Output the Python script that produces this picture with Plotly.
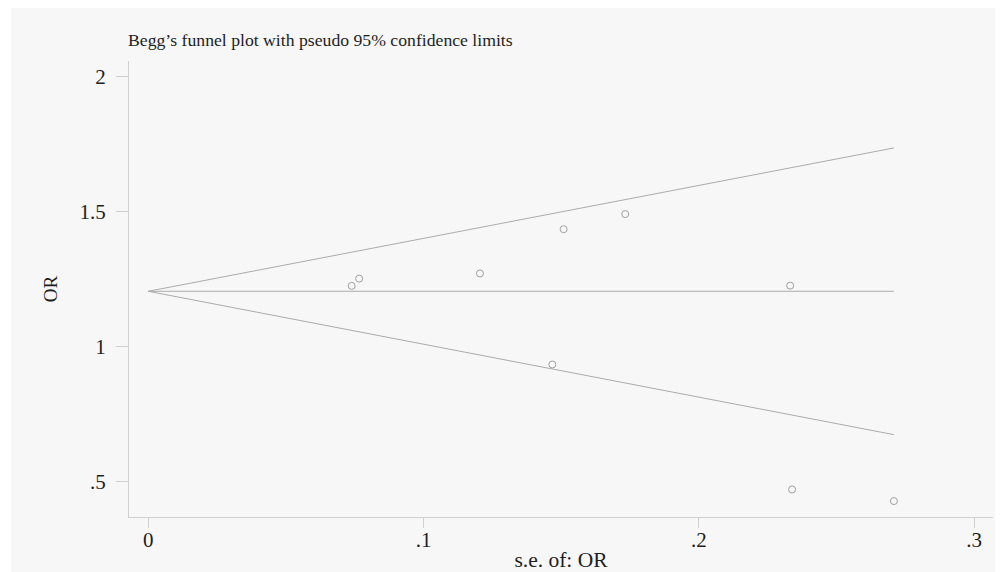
import plotly.graph_objects as go

# Study data: standard error of OR (x) and OR (y)
se = [0.0739, 0.0766, 0.1205, 0.1468, 0.1509, 0.1733, 0.2332, 0.2339, 0.2709]
odds_ratio = [1.224, 1.251, 1.270, 0.933, 1.434, 1.490, 1.225, 0.470, 0.427]

pooled = 1.204  # pooled estimate (centre line)
z = 1.96

x_ticks = [0, 0.1, 0.2, 0.3]
x_tick_labels = ["0", ".1", ".2", ".3"]
y_ticks = [0.5, 1, 1.5, 2]
y_tick_labels = [".5", "1", "1.5", "2"]

se_max = max(se)
line_x = [0, se_max]

FONT = "Liberation Serif"
LINE_COL = "#ababab"
AXIS_COL = "#d0d0d0"
TXT = "#1e1e1e"

fig = go.Figure()
fig.add_trace(go.Scatter(x=line_x, y=[pooled + z * s for s in line_x], mode="lines",
                         line=dict(color=LINE_COL, width=1), showlegend=False, hoverinfo="skip"))
fig.add_trace(go.Scatter(x=line_x, y=[pooled, pooled], mode="lines",
                         line=dict(color=LINE_COL, width=1), showlegend=False, hoverinfo="skip"))
fig.add_trace(go.Scatter(x=line_x, y=[pooled - z * s for s in line_x], mode="lines",
                         line=dict(color=LINE_COL, width=1), showlegend=False, hoverinfo="skip"))
fig.add_trace(go.Scatter(x=se, y=odds_ratio, mode="markers",
                         marker=dict(symbol="circle-open", size=7, color="#a0a0a0",
                                     line=dict(width=1, color="#a0a0a0")),
                         showlegend=False))

# page body has an 8px margin; the figure starts at (8, 8) on the page
OFF = 8
W, H = 1003 - OFF, 572 - OFF
ml, mr, mt, mb = 129 - OFF, 10, 61 - OFF, 55
pw, ph = W - ml - mr, H - mt - mb

# grey background panel (white strip on the left edge)
fig.add_shape(type="rect", xref="paper", yref="paper",
              x0=(11 - OFF - ml) / pw, x1=(W - ml) / pw,
              y0=-mb / ph, y1=1 + mt / ph,
              fillcolor="#f7f7f7", line=dict(width=0), layer="below")

fig.update_layout(
    template="none",
    width=W, height=H,
    margin=dict(l=ml, r=mr, t=mt, b=mb, autoexpand=False),
    paper_bgcolor="white",
    plot_bgcolor="rgba(0,0,0,0)",
    font=dict(family=FONT, color=TXT, size=20),
    title=dict(text="Begg’s funnel plot with pseudo 95% confidence limits",
               x=(128 - OFF) / W, xanchor="left", xref="container",
               y=1 - (40 - OFF) / H, yanchor="middle", yref="container",
               font=dict(family=FONT, size=17.7, color=TXT)),
    xaxis=dict(range=[-0.00701, 0.3069], tickvals=x_ticks, ticktext=x_tick_labels,
               automargin=False,
               showgrid=False, zeroline=False, showline=True, linecolor=AXIS_COL, linewidth=1,
               ticks="outside", ticklen=10, tickcolor=AXIS_COL, tickwidth=1,
               ticklabelstandoff=-6,
               tickfont=dict(family=FONT, size=21, color=TXT),
               title=dict(text="s.e. of: OR", standoff=6,
                          font=dict(family=FONT, size=21.5, color=TXT))),
    yaxis=dict(range=[0.368, 2.057], tickvals=y_ticks, ticktext=y_tick_labels,
               automargin=False,
               showgrid=False, zeroline=False, showline=True, linecolor=AXIS_COL, linewidth=1,
               ticks="outside", ticklen=12, tickcolor=AXIS_COL, tickwidth=1,
               ticklabelstandoff=6,
               tickfont=dict(family=FONT, size=21, color=TXT),
               title=dict(text="OR", standoff=16,
                          font=dict(family=FONT, size=19, color=TXT))),
)

fig.write_html("out.html")
